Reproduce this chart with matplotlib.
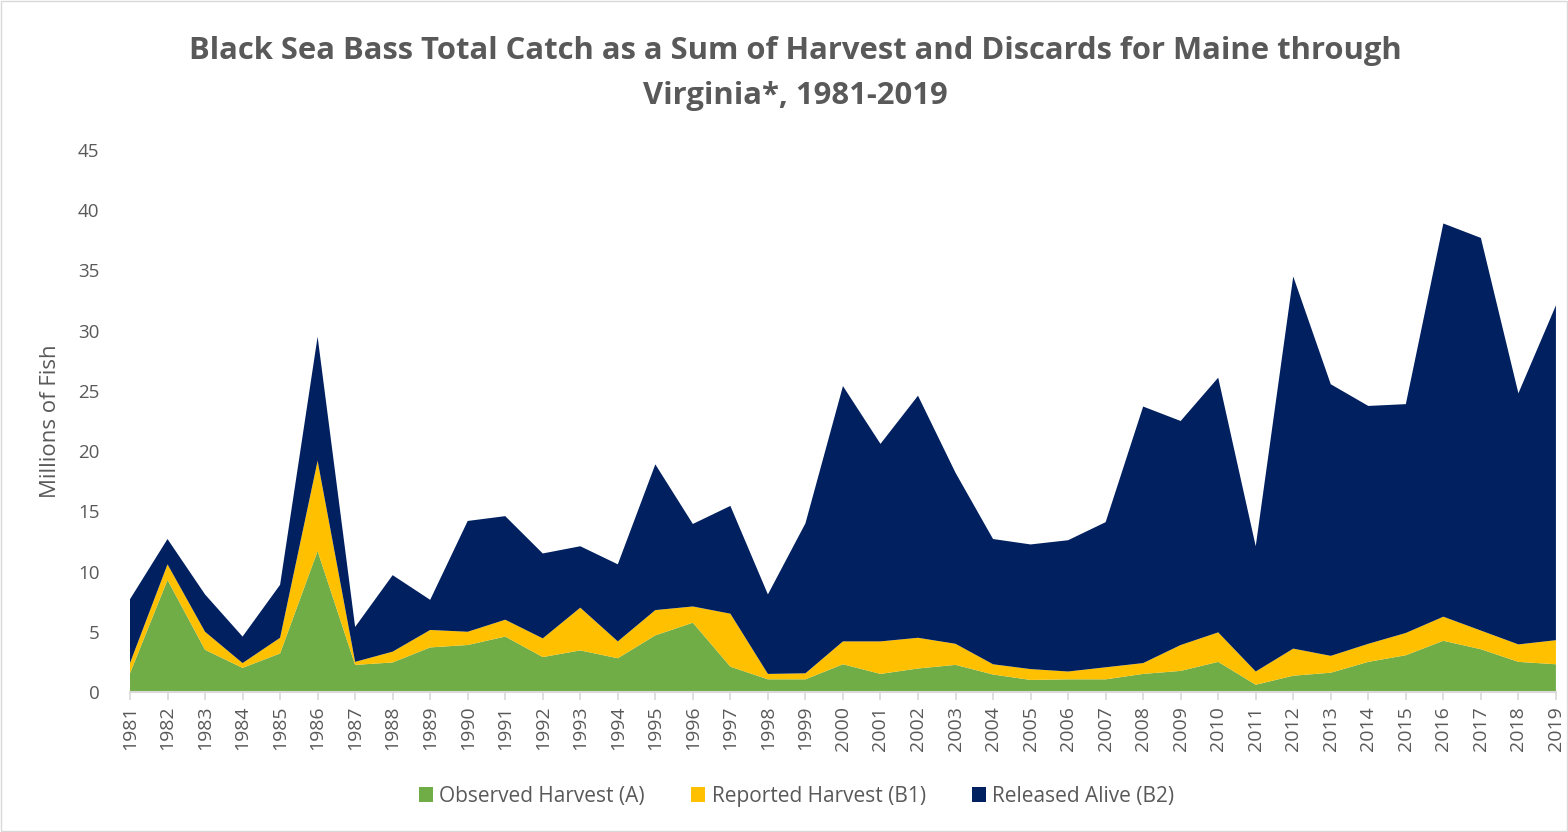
import numpy as np
import matplotlib.pyplot as plt
from matplotlib.patches import Rectangle

plt.rcParams['font.family'] = ['Open Sans', 'DejaVu Sans']

# Data (millions of fish)
years = list(range(1981, 2020))
observed_a = [1.55, 9.3, 3.5, 2.0, 3.2, 11.7, 2.25, 2.45, 3.7, 3.9,
              4.6, 2.9, 3.45, 2.8, 4.7, 5.75, 2.1, 1.05, 1.05, 2.3,
              1.5, 1.95, 2.25, 1.45, 1.0, 1.05, 1.05, 1.5, 1.75, 2.5,
              0.6, 1.35, 1.6, 2.5, 3.05, 4.25, 3.55, 2.5, 2.3]
reported_b1 = [0.85, 1.3, 1.5, 0.4, 1.3, 7.5, 0.25, 0.9, 1.45, 1.1,
               1.4, 1.55, 3.55, 1.4, 2.1, 1.35, 4.4, 0.45, 0.5, 1.9,
               2.7, 2.55, 1.75, 0.85, 0.9, 0.65, 1.0, 0.9, 2.15, 2.45,
               1.1, 2.25, 1.4, 1.5, 1.85, 2.0, 1.55, 1.45, 2.0]
released_b2 = [5.3, 2.1, 3.1, 2.2, 4.4, 10.3, 2.9, 6.35, 2.5, 9.2,
               8.6, 7.05, 5.1, 6.4, 12.1, 6.85, 8.95, 6.6, 12.45, 21.2,
               16.4, 20.1, 14.2, 10.4, 10.35, 10.9, 12.05, 21.3, 18.6, 21.15,
               10.4, 30.9, 22.55, 19.75, 19.0, 32.65, 32.6, 20.85, 27.8]
labels = ['Observed Harvest (A)', 'Reported Harvest (B1)', 'Released Alive (B2)']
colors = ['#70AD47', '#FFC000', '#002060']

title = 'Black Sea Bass Total Catch as a Sum of Harvest and Discards for Maine through\nVirginia*, 1981-2019'

fig = plt.figure(figsize=(15.68, 8.32), dpi=100)
ax = fig.add_axes([0.0829, 0.1683, 0.9094, 0.6514])

ax.stackplot(years, observed_a, reported_b1, released_b2,
             labels=labels, colors=colors, linewidth=0)

ax.set_xlim(1981, 2019)
ax.set_ylim(0, 45)
ax.set_yticks(range(0, 46, 5))
ax.set_xticks(years)
ax.set_xticklabels([str(y) for y in years], rotation=90)

gray = '#595959'
for s in ['top', 'right', 'left']:
    ax.spines[s].set_visible(False)
ax.spines['bottom'].set_color('#d9d9d9')
ax.spines['bottom'].set_linewidth(1.5)
ax.tick_params(axis='y', length=0, labelsize=13.5, labelcolor=gray, pad=22)
ax.tick_params(axis='x', length=6, color='#d9d9d9', width=1.2,
               labelsize=14, labelcolor=gray, pad=4)

ax.set_ylabel('Millions of Fish', fontsize=16, color=gray, labelpad=12)

fig.text(0.507, 0.957, title, ha='center', va='top', fontsize=22.3,
         fontweight='bold', color=gray, linespacing=1.65)

handles, lbls = ax.get_legend_handles_labels()
fig.legend(handles, lbls, loc='center', bbox_to_anchor=(0.508, 0.043), ncol=3,
           frameon=False, fontsize=15, handlelength=0.7, handleheight=0.7,
           handletextpad=0.3, columnspacing=2.2, labelcolor=gray)

fig.patches.append(Rectangle((0.0005, 0.001), 0.999, 0.998, transform=fig.transFigure,
                             fill=False, edgecolor='#d9d9d9', linewidth=1))

fig.savefig('out.png', dpi=100)
